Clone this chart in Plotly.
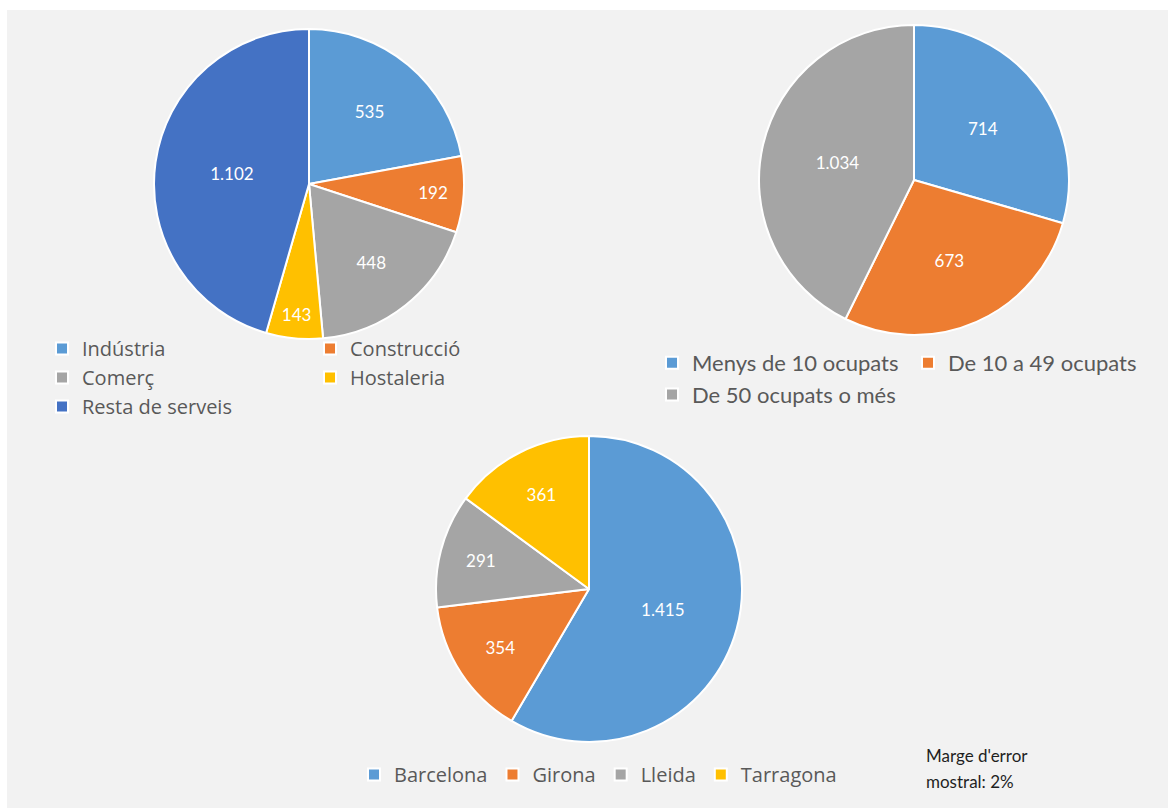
import plotly.graph_objects as go

# ---------------- data ----------------
sector_labels = ["Indústria", "Construcció", "Comerç", "Hostaleria", "Resta de serveis"]
sector_values = [535, 192, 448, 143, 1102]

size_labels = ["Menys de 10 ocupats", "De 10 a 49 ocupats", "De 50 ocupats o més"]
size_values = [714, 673, 1034]

province_labels = ["Barcelona", "Girona", "Lleida", "Tarragona"]
province_values = [1415, 354, 291, 361]

note_lines = ["Marge d'error", "mostral: 2%"]

# ---------------- style ----------------
BLUE = "#5B9BD5"
ORANGE = "#ED7D31"
GRAY = "#A5A5A5"
YELLOW = "#FFC000"
DARKBLUE = "#4472C4"
sector_colors = [BLUE, ORANGE, GRAY, YELLOW, DARKBLUE]
size_colors = [BLUE, ORANGE, GRAY]
province_colors = [BLUE, ORANGE, GRAY, YELLOW]

W, H = 1168, 808
ML, MR, MT, MB = 100, 90, 0, 0
PW = W - ML - MR
PH = H - MT - MB
FONT = "Lato, 'Open Sans', sans-serif"
FONT2 = "'Open Sans', Lato, sans-serif"
LEG_COLOR = "#595959"


def px_x(x):
    return (x - ML) / PW


def px_y(y):
    return 1 - (y - MT) / PH


def domain(cx, cy, r):
    return dict(x=[px_x(cx - r), px_x(cx + r)], y=[px_y(cy + r), px_y(cy - r)])


def pie(labels, values, colors, dom, legend):
    return go.Pie(
        labels=labels,
        values=values,
        marker=dict(colors=colors, line=dict(color="white", width=2)),
        sort=False,
        direction="clockwise",
        rotation=0,
        domain=dom,
        texttemplate="%{value:,}",
        textposition="inside",
        insidetextorientation="horizontal",
        textfont=dict(family=FONT, size=17, color="white"),
        legend=legend,
        hoverinfo="label+value",
    )


fig = go.Figure()
fig.add_trace(pie(sector_labels, sector_values, sector_colors, domain(309, 184, 155), "legend"))
fig.add_trace(pie(size_labels, size_values, size_colors, domain(914, 180, 155), "legend2"))
fig.add_trace(pie(province_labels, province_values, province_colors, domain(589, 589, 153), "legend3"))

fig.update_layout(
    width=W,
    height=H,
    margin=dict(l=ML, r=MR, t=MT, b=MB, autoexpand=False),
    paper_bgcolor="white",
    plot_bgcolor="#F2F2F2",
    separators=",.",
    font=dict(family=FONT, color=LEG_COLOR),
    legend=dict(
        orientation="h",
        x=px_x(42), xanchor="left",
        y=px_y(329), yanchor="top",
        entrywidth=223, entrywidthmode="pixels",
        font=dict(family=FONT2, size=20, color=LEG_COLOR),
        bgcolor="rgba(0,0,0,0)",
        traceorder="normal",
    ),
    legend2=dict(
        orientation="h",
        x=px_x(1164), xanchor="right",
        y=px_y(342), yanchor="top",
        entrywidth=211, entrywidthmode="pixels",
        font=dict(family=FONT, size=22, color=LEG_COLOR),
        bgcolor="rgba(0,0,0,0)",
        traceorder="normal",
    ),
    legend3=dict(
        orientation="h",
        x=px_x(598), xanchor="center",
        y=px_y(755), yanchor="top",
        font=dict(family=FONT2, size=20, color=LEG_COLOR),
        bgcolor="rgba(0,0,0,0)",
        traceorder="normal",
    ),
    shapes=[
        dict(type="rect", xref="paper", yref="paper", layer="below",
             x0=px_x(7), x1=px_x(W + 2), y0=px_y(H + 2), y1=px_y(10),
             fillcolor="#F2F2F2", line=dict(width=0)),
    ],
    annotations=[
        dict(text=note_lines[0], xref="paper", yref="paper", x=px_x(924), y=px_y(755),
             xanchor="left", yanchor="middle", showarrow=False,
             font=dict(family=FONT, size=17, color="#1F1F1F")),
        dict(text=note_lines[1], xref="paper", yref="paper", x=px_x(924), y=px_y(781),
             xanchor="left", yanchor="middle", showarrow=False,
             font=dict(family=FONT, size=17, color="#1F1F1F")),
    ],
)

fig.write_html(
    "out.html",
    config={"displayModeBar": False},
    post_script="document.body.style.margin='0px';",
)
